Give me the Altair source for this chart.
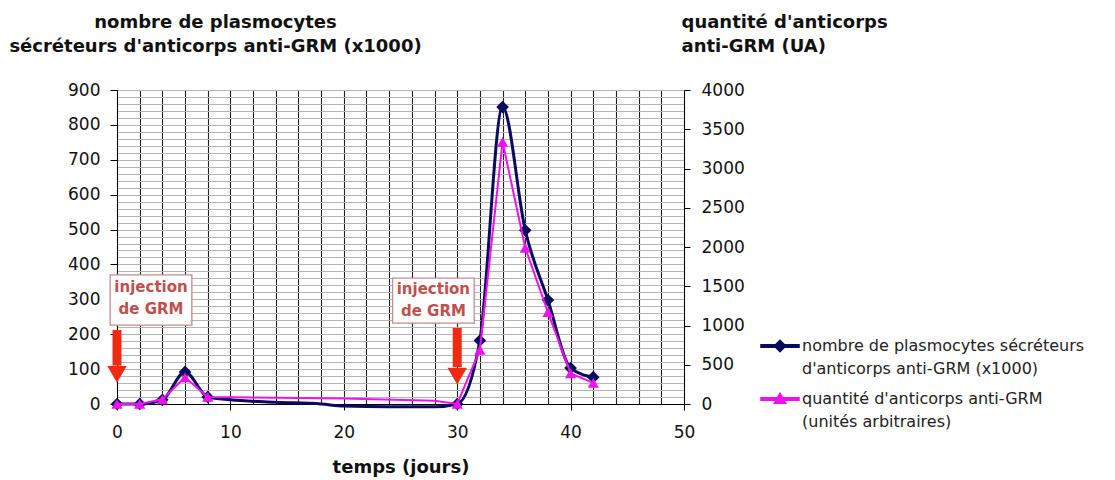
import altair as alt
import pandas as pd

# ---------------- data ----------------
SERIES = [
    "nombre de plasmocytes sécréteurs|d'anticorps anti-GRM (x1000)",
    "quantité d'anticorps anti-GRM|(unités arbitraires)",
]

# plasmocytes (left axis, x1000)
plasmo_days = [0, 2, 4, 6, 8, 10, 14, 18, 20, 24, 28, 30, 32, 34, 36, 38, 40, 42]
plasmo_vals = [0, 0, 12, 92, 20, 12, 5, 0, -6, -8, -8, 0, 182, 851, 498, 298, 103, 77]
plasmo_marked = [0, 2, 4, 6, 8, 30, 32, 34, 36, 38, 40, 42]

# anticorps (right axis, UA)
anti_days = [0, 2, 4, 6, 8, 20, 28, 30, 32, 34, 36, 38, 40, 42]
anti_vals = [0, 0, 60, 340, 90, 70, 40, 0, 690, 3340, 1990, 1170, 390, 270]
anti_marked = [0, 2, 4, 6, 8, 30, 32, 34, 36, 38, 40, 42]

# annotations ("injection de GRM")
injection_days = [0, 30]
box_left = [-0.6, 24.3]
box_right = [6.6, 31.5]
box_bottom = [226, 232]
box_top = [370, 361]
text_x = [3.0, 27.9]
text_y = [335, 330]
arrow_top = [212, 218]
arrow_neck = [110, 106]
arrow_head = [85, 80]

NAVY = "#0a0a5e"
MAGENTA = "#f010f0"
RED = "#f02a10"
FONT = "DejaVu Sans"

df_p = pd.DataFrame({"jour": plasmo_days, "v": plasmo_vals, "série": SERIES[0]})
df_pm = df_p[df_p["jour"].isin(plasmo_marked)]
df_a = pd.DataFrame({"jour": anti_days, "v": anti_vals, "série": SERIES[1]})
df_am = df_a[df_a["jour"].isin(anti_marked)]
df_ann = pd.DataFrame({
    "jour": injection_days, "bx0": box_left, "bx1": box_right,
    "by0": box_bottom, "by1": box_top, "tx": text_x, "ty": text_y,
    "label": ["injection\nde GRM"] * 2,
    "a0": arrow_top, "a1": arrow_neck, "ah": arrow_head,
})
df_leg = pd.DataFrame({"série": SERIES})

# ---------------- scales / axes ----------------
x_scale = alt.Scale(domain=[0, 50], nice=False)
x_axis = alt.Axis(
    values=list(range(0, 51, 2)),
    labelExpr="datum.value % 10 === 0 ? datum.label : ''",
    tickOpacity={"condition": {"test": "datum.value % 10 === 0", "value": 1}, "value": 0},
    grid=True, gridColor="#222222", gridWidth=1.1, labelFlush=False,
    tickSize=6, labelPadding=14, domainColor="#000",
    title="temps (jours)", titleY=68, titleBaseline="alphabetic",
)
left_scale = alt.Scale(domain=[0, 900], nice=False, zero=False)
left_axis = alt.Axis(
    values=list(range(0, 901, 20)),
    labelExpr="datum.value % 100 === 0 ? datum.label : ''",
    tickOpacity={"condition": {"test": "datum.value % 100 === 0", "value": 1}, "value": 0},
    grid=True, gridColor="#b4b4b4", gridWidth=1, labelFlush=False,
    tickSize=7, labelPadding=10, domainColor="#000",
    title=["nombre de plasmocytes", "sécréteurs d'anticorps anti-GRM (x1000)"],
    titleAngle=0, titleAlign="center", titleBaseline="alphabetic",
    titleX=98, titleY=-63, titleLineHeight=24,
)
right_scale = alt.Scale(domain=[0, 4000], nice=False)
right_axis = alt.Axis(
    orient="right", values=list(range(0, 4001, 500)), grid=False, format="d",
    tickSize=6, labelPadding=11, domainColor="#000", labelFlush=False,
    title=["quantité  d'anticorps", "\u00a0anti-GRM (UA)"],
    titleAngle=0, titleAlign="left", titleBaseline="alphabetic",
    titleX=-3, titleY=-63, titleLineHeight=24,
)

legend = alt.Legend(
    title=None, orient="none", legendX=643, legendY=236, padding=0,
    labelExpr="split(datum.label, '|')", labelFontSize=16, labelLimit=500,
    labelColor="#222", labelFont=FONT, symbolSize=1444, rowPadding=2, labelOffset=2,
    labelBaseline="middle",
)
color = alt.Color("série:N", scale=alt.Scale(domain=SERIES, range=[NAVY, MAGENTA]), legend=legend)

X = lambda f: alt.X(f, type="quantitative", scale=x_scale, axis=x_axis)
YL = lambda f: alt.Y(f, type="quantitative", scale=left_scale, axis=left_axis)
YR = lambda f: alt.Y(f, type="quantitative", scale=right_scale, axis=right_axis)

PATH_D = "M-1,-0.07L1,-0.07L1,0.07L-1,0.07Z M0,-0.3L0.3,0L0,0.3L-0.3,0Z"
PATH_T = "M-1,-0.07L1,-0.07L1,0.07L-1,0.07Z M0,-0.3L0.3,0.22L-0.3,0.22Z"

dummy = alt.Chart(df_leg).mark_point(filled=True, opacity=1).encode(
    color=color,
    shape=alt.Shape("série:N", scale=alt.Scale(domain=SERIES, range=[PATH_D, PATH_T]), legend=legend),
).transform_filter("false")

dark_line = alt.Chart(df_p).mark_line(strokeWidth=3, interpolate="monotone", clip=False).encode(
    x=X("jour"), y=YL("v"), color=color)
dark_pts = alt.Chart(df_pm).mark_point(shape="diamond", filled=True, size=160, opacity=1).encode(
    x=X("jour"), y=YL("v"), color=color)

boxes = alt.Chart(df_ann).mark_rect(fill="white", stroke="#c48c8c", strokeWidth=1.3, clip=False).encode(
    x=X("bx0"), x2="bx1", y=YL("by0"), y2="by1")
texts = alt.Chart(df_ann).mark_text(
    lineBreak="\n", fontWeight="bold", fontSize=15, color="#c0504d", lineHeight=22, font=FONT,
    baseline="middle", align="center").encode(x=X("tx"), y=YL("ty"), text="label:N")
shafts = alt.Chart(df_ann).mark_rule(color=RED, strokeWidth=9).encode(
    x=X("jour"), y=YL("a0"), y2="a1")
heads = alt.Chart(df_ann).mark_point(shape="triangle-down", filled=True, size=380, opacity=1, color=RED).encode(
    x=X("jour"), y=YL("ah"))

left = alt.layer(dummy, boxes, texts, shafts, heads, dark_line, dark_pts)

mag_line = alt.Chart(df_a).mark_line(strokeWidth=2).encode(x=X("jour"), y=YR("v"), color=color)
mag_pts = alt.Chart(df_am).mark_point(shape="triangle-up", filled=True, size=125, opacity=1).encode(
    x=X("jour"), y=YR("v"), color=color)
right = alt.layer(mag_line, mag_pts)

chart = alt.layer(left, right).resolve_scale(y="independent").properties(
    width=567, height=314,
    autosize=alt.AutoSizeParams(type="none"),
    padding={"left": 109, "top": 82, "right": 420, "bottom": 74},
).configure(font=FONT, style={"guide-label": {"lineHeight": 23}}).configure_axis(
    labelFontSize=17, labelColor="#111", titleFontSize=18, titleFontWeight="bold",
    labelFont=FONT, titleFont=FONT,
    titleColor="#111", tickColor="#000",
).configure_view(stroke=None)

chart.save("out.html", embed_options={"renderer": "svg", "actions": False})
